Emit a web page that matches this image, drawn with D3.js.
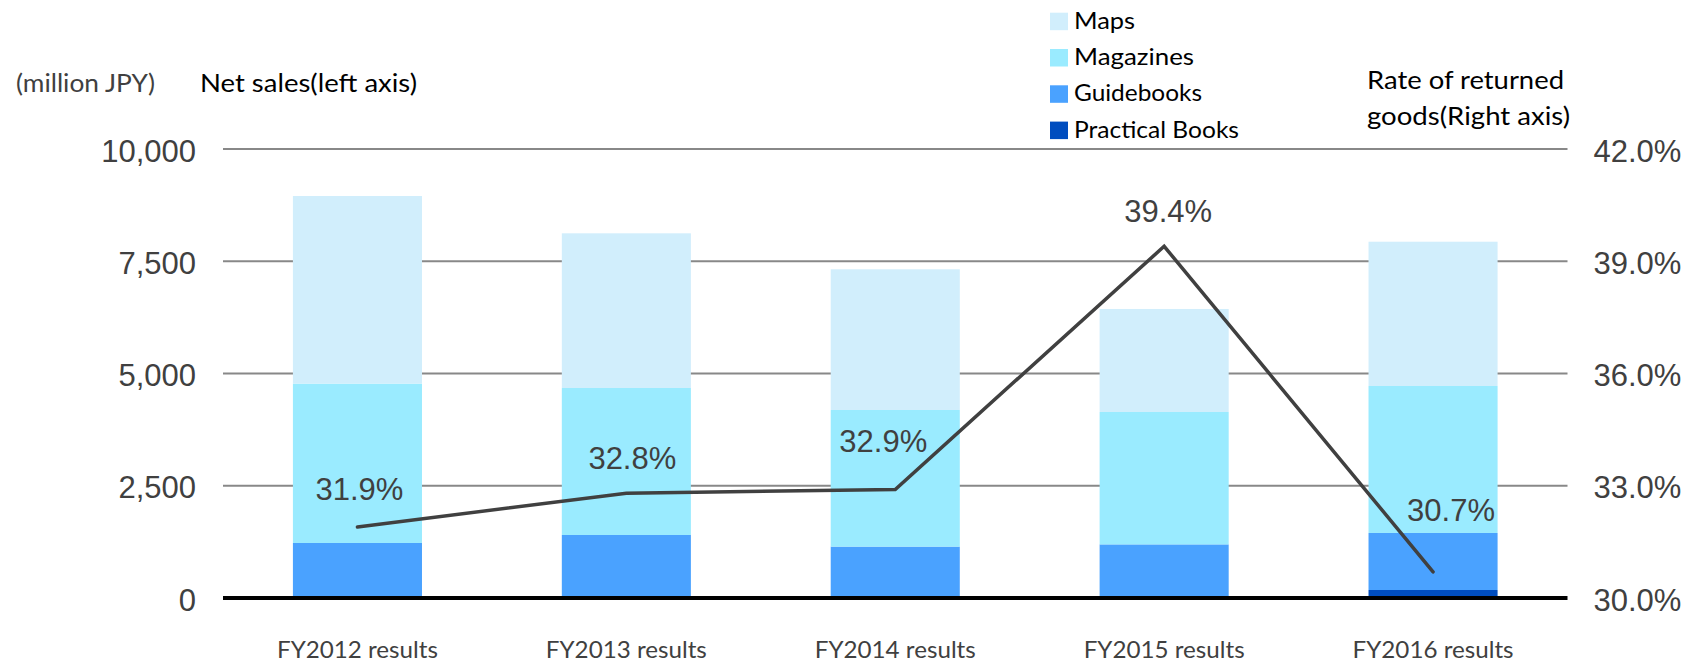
<!DOCTYPE html>
<html><head><meta charset="utf-8">
<script src="https://cdn.jsdelivr.net/npm/d3@7"></script>
<style>body{margin:0;background:#fff}svg{display:block}</style>
</head><body>
<svg id="chart" width="1704" height="663"></svg>
<script>
// ---- data ----
const categories = ["FY2012 results","FY2013 results","FY2014 results","FY2015 results","FY2016 results"];
const seriesKeys = ["Practical Books","Guidebooks","Magazines","Maps"];
const practicalBooks = [0, 0, 0, 0, 178];
const guidebooks = [1225, 1403, 1145, 1194, 1270];
const magazines = [3550, 3274, 3042, 2949, 3274];
const maps = [4178, 3445, 3134, 2294, 3213];
const returnRate = [31.9, 32.8, 32.9, 39.4, 30.7];
const leftTicks = [0, 2500, 5000, 7500, 10000];
const rightTicks = [30, 33, 36, 39, 42];
const legendOrder = ["Maps","Magazines","Guidebooks","Practical Books"];

// ---- styles / layout ----
const colors = {"Maps":"#d1eefc","Magazines":"#9aebff","Guidebooks":"#4aa2ff","Practical Books":"#004dbf"};
const labelOffsets = [[2,-27],[6,-24],[-12,-37],[4,-24],[18,-51]];
const sansJP = "Lato, 'Noto Sans', sans-serif";
const sansNum = "'Liberation Sans', Arial, sans-serif";

const svg = d3.select("#chart");
const x0 = 223, x1 = 1567.5, yBase = 598, yTop = 149;

const x = d3.scaleBand().domain(categories).range([x0, x1]).paddingInner(0.52).paddingOuter(0.26);
const y = d3.scaleLinear().domain([0, 10000]).range([yBase, yTop]);
const yR = d3.scaleLinear().domain([30, 42]).range([yBase, yTop]);

const table = categories.map((c, i) => ({
  cat: c,
  "Practical Books": practicalBooks[i],
  "Guidebooks": guidebooks[i],
  "Magazines": magazines[i],
  "Maps": maps[i],
  rate: returnRate[i]
}));

// gridlines
svg.append("g").selectAll("line").data(leftTicks.filter(d => d > 0)).join("line")
  .attr("x1", x0).attr("x2", x1)
  .attr("y1", d => y(d)).attr("y2", d => y(d))
  .attr("stroke", "#888").attr("stroke-width", 2);

// stacked bars
const stacked = d3.stack().keys(seriesKeys)(table);
svg.append("g").selectAll("g").data(stacked).join("g")
  .attr("fill", d => colors[d.key])
  .selectAll("rect").data(d => d).join("rect")
  .attr("x", d => x(d.data.cat))
  .attr("width", x.bandwidth())
  .attr("y", d => y(d[1]))
  .attr("height", d => Math.max(0, y(d[0]) - y(d[1])));

// baseline
svg.append("line").attr("x1", x0).attr("x2", x1).attr("y1", yBase).attr("y2", yBase)
  .attr("stroke", "#000").attr("stroke-width", 4);

// left axis
const gl = svg.append("g").attr("transform", `translate(${x0},0)`)
  .call(d3.axisLeft(y).tickValues(leftTicks).tickFormat(d3.format(",")).tickSize(0).tickPadding(27));
gl.select(".domain").remove();
gl.selectAll("text").attr("font-family", sansNum).attr("font-size", 31).attr("fill", "#404040").attr("dy", "0.39em");

// right axis
const gr = svg.append("g").attr("transform", `translate(${x1},0)`)
  .call(d3.axisRight(yR).tickValues(rightTicks).tickFormat(d => d.toFixed(1) + "%").tickSize(0).tickPadding(26));
gr.select(".domain").remove();
gr.selectAll("text").attr("font-family", sansNum).attr("font-size", 31).attr("fill", "#404040").attr("dy", "0.39em");

// bottom axis
const gb = svg.append("g").attr("transform", `translate(0,${yBase})`)
  .call(d3.axisBottom(x).tickSize(0));
gb.select(".domain").remove();
gb.selectAll("text").attr("font-family", sansJP).attr("font-size", 24).attr("fill", "#404040")
  .attr("y", 60).attr("dy", 0).attr("textLength", 161).attr("lengthAdjust", "spacingAndGlyphs");

// line
const line = d3.line().x(d => x(d.cat) + x.bandwidth() / 2).y(d => yR(d.rate));
svg.append("path").datum(table).attr("d", line)
  .attr("fill", "none").attr("stroke", "#404040").attr("stroke-width", 3.5)
  .attr("stroke-linejoin", "miter").attr("stroke-linecap", "round");

// line labels
svg.append("g").selectAll("text").data(table).join("text")
  .attr("x", (d, i) => x(d.cat) + x.bandwidth() / 2 + labelOffsets[i][0])
  .attr("y", (d, i) => yR(d.rate) + labelOffsets[i][1])
  .attr("text-anchor", "middle")
  .attr("font-family", sansNum).attr("font-size", 31).attr("fill", "#404040")
  .text(d => d.rate.toFixed(1) + "%");

// titles
function addText(t, xx, yy, size, fill, len) {
  const el = svg.append("text").attr("x", xx).attr("y", yy)
    .attr("font-family", sansJP).attr("font-size", size).attr("fill", fill).text(t);
  if (len) el.attr("textLength", len).attr("lengthAdjust", "spacingAndGlyphs");
  return el;
}
addText("(million JPY)", 16, 92, 25, "#404040", 139);
addText("Net sales(left axis)", 200, 92, 25, "#000", 217);
addText("Rate of returned", 1367, 88.5, 25, "#000", 197);
addText("goods(Right axis)", 1367, 124.5, 25, "#000", 203);

// legend
const legendW = {"Maps":61,"Magazines":120,"Guidebooks":128,"Practical Books":165};
const lg = svg.append("g").selectAll("g").data(legendOrder).join("g")
  .attr("transform", (d, i) => `translate(1050,${12.7 + i * 36.3})`);
lg.append("rect").attr("width", 18).attr("height", 17.5).attr("fill", d => colors[d]);
lg.append("text").attr("x", 24).attr("y", 16).attr("font-family", sansJP).attr("font-size", 24)
  .attr("fill", "#000").attr("textLength", d => legendW[d]).attr("lengthAdjust", "spacingAndGlyphs")
  .text(d => d);
</script>
</body></html>
